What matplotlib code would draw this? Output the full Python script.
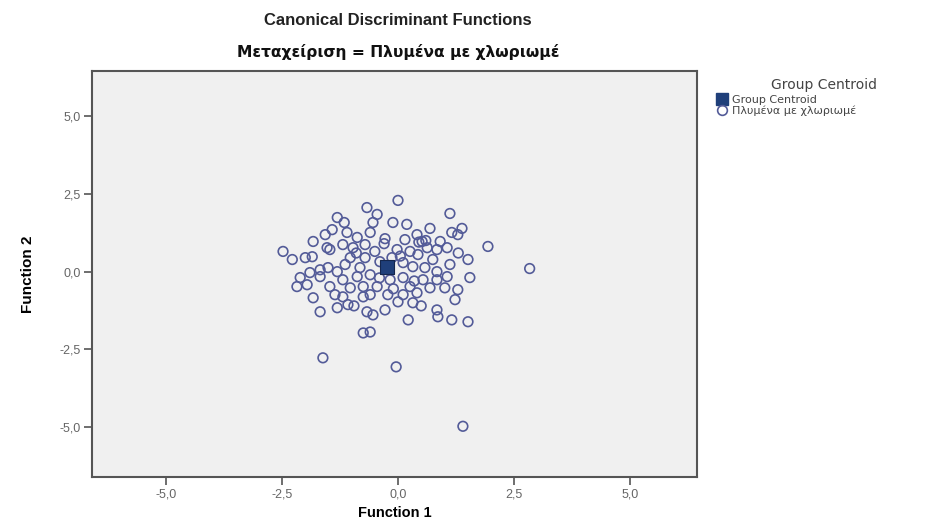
import matplotlib
matplotlib.use("Agg")
import matplotlib.pyplot as plt
from matplotlib.ticker import FuncFormatter
from matplotlib.lines import Line2D

plt.rcParams['font.family'] = ['Liberation Sans', 'DejaVu Sans']

# discriminant scores, group "Πλυμένα με χλωριωμέ"
func1 = [0.00, -0.67, -0.45, 1.12, -1.31, -1.16, -0.54, -0.11, 0.19, 1.38,
         1.16, 0.69, -1.42, -1.57, -1.10, -0.88, -0.60, -0.28, 0.15, 0.41,
         0.52, 0.91, 1.29, -1.83, -1.53, -1.85, -2.48, -2.28, -2.00, -1.19,
         -0.97, -0.71, -0.50, -1.03, -0.71, -0.02, 0.26, 0.43, 0.63, 0.84,
         1.06, 0.75, 1.12, 1.51, 1.94, 0.11, 0.32, 0.58, 0.84, -1.68,
         -1.51, -1.31, -1.90, -2.11, -2.18, -1.96, -1.68, -1.47, -1.19, -0.88,
         -0.60, -0.75, -1.03, -0.45, -0.17, 0.11, 0.26, 0.54, 0.84, 1.06,
         1.01, 0.69, 0.41, 0.11, -0.22, -0.60, -0.75, -1.19, -1.36, -1.83,
         -1.08, -1.31, -1.68, -0.67, -0.54, 0.00, 0.32, 0.84, 0.86, 1.16,
         1.51, 0.22, -1.62, -0.04, 1.40, -0.75, -0.60, 2.84, -0.39, -0.82,
         -1.14, -0.13, 1.55, 1.29, -0.28, 1.23, -1.47, -0.30, 0.60, -0.90,
         0.35, -0.40, 1.30, 0.50, -0.95, 0.05, -0.10, 0.45]
func2 = [2.29, 2.06, 1.84, 1.87, 1.74, 1.58, 1.58, 1.58, 1.52, 1.39,
         1.26, 1.39, 1.35, 1.19, 1.26, 1.10, 1.26, 1.06, 1.03, 1.19,
         0.97, 0.97, 1.19, 0.97, 0.77, 0.48, 0.65, 0.39, 0.45, 0.87,
         0.77, 0.87, 0.65, 0.45, 0.45, 0.71, 0.65, 0.55, 0.77, 0.71,
         0.77, 0.39, 0.23, 0.39, 0.81, 0.29, 0.16, 0.13, 0.00, 0.06,
         0.13, 0.00, -0.03, -0.19, -0.48, -0.42, -0.16, -0.48, -0.26, -0.16,
         -0.10, -0.48, -0.52, -0.48, -0.26, -0.19, -0.48, -0.26, -0.26, -0.16,
         -0.52, -0.52, -0.68, -0.74, -0.74, -0.74, -0.81, -0.81, -0.74, -0.84,
         -1.06, -1.16, -1.29, -1.29, -1.39, -0.97, -1.00, -1.23, -1.45, -1.55,
         -1.61, -1.55, -2.77, -3.06, -4.97, -1.97, -1.94, 0.10, 0.32, 0.13,
         0.23, 0.45, -0.19, -0.58, -1.23, -0.90, 0.71, 0.90, 1.00, 0.60,
         -0.30, -0.20, 0.60, -1.10, -1.10, 0.50, -0.55, 0.95]
centroid = (-0.24, 0.14)

ticks = [-5.0, -2.5, 0.0, 2.5, 5.0]
lims = (-6.6, 6.45)

fig = plt.figure(figsize=(9.26, 5.27), dpi=100)
ax = fig.add_axes([0.0994, 0.0949, 0.6533, 0.7704])
ax.set_facecolor('#f0f0f0')

ax.scatter(func1, func2, s=48, facecolors='none', edgecolors='#535b98',
           linewidths=1.2, zorder=2)
ax.scatter([centroid[0]], [centroid[1]], s=115, marker='s', color='#1f3f7a',
           edgecolors='#14264d', linewidths=0.8, zorder=3)

ax.set_xlim(lims)
ax.set_ylim(lims)
ax.set_xticks(ticks)
ax.set_yticks(ticks)
fmt = FuncFormatter(lambda v, p: f"{v:.1f}".replace('.', ','))
ax.xaxis.set_major_formatter(fmt)
ax.yaxis.set_major_formatter(fmt)
ax.tick_params(colors='#555555', labelsize=9, length=6, width=1.2, pad=2,
               labelcolor='#666666')
for sp in ax.spines.values():
    sp.set_color('#555555')
    sp.set_linewidth(1.5)

ax.set_xlabel("Function 1", fontsize=10.5, fontweight='bold', labelpad=4)
ax.set_ylabel("Function 2", fontsize=11, fontweight='bold', labelpad=18,
              family=['Liberation Sans Narrow', 'Liberation Sans'])

fig.text(0.43, 0.962, "Canonical Discriminant Functions", ha='center',
         va='center', fontsize=12, fontweight='bold', color='#222222')
fig.text(0.43, 0.901, "Μεταχείριση = Πλυμένα με χλωριωμέ", ha='center',
         va='center', fontsize=11.2, fontweight='bold', color='#111111',
         family=['DejaVu Sans'])

# legend
fig.text(824 / 926, 1 - 85 / 527, "Group Centroid", ha='center', va='center',
         fontsize=10, color='#444444', family=['DejaVu Sans'])
handles = [
    Line2D([], [], marker='s', ls='none', markersize=8, color='#1f3f7a'),
    Line2D([], [], marker='o', ls='none', markersize=7, markerfacecolor='none',
           markeredgecolor='#535b98', markeredgewidth=1.2),
]
leg = fig.legend(handles, ["Group Centroid", "Πλυμένα με χλωριωμέ"],
                 loc='upper left', bbox_to_anchor=(716 / 926, 1 - 95 / 527),
                 frameon=False, prop={'size': 8, 'family': ['DejaVu Sans']},
                 handlelength=1.0, handletextpad=0.4,
                 labelspacing=0.05, borderaxespad=0, borderpad=0)
for t in leg.get_texts():
    t.set_color('#444444')

fig.savefig("out.png", dpi=100)
